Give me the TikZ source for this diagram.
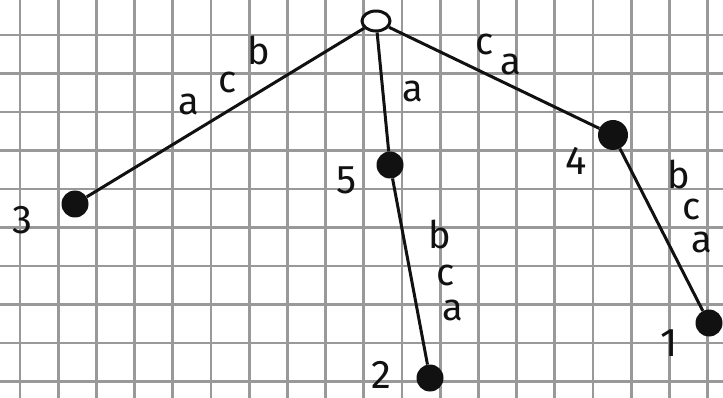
\documentclass[tikz,border=0pt]{standalone}
\usepackage{fontspec}
\setsansfont{Fira Sans}
\usetikzlibrary{shapes.geometric}
\begin{document}
\begin{tikzpicture}[x=1pt,y=-1pt]
    \definecolor{gridColour}{HTML}{999999}
    \definecolor{inkColour}{HTML}{111111}
    \tikzset{
        gridline/.style={gridColour, line width=2.8pt},
        edge/.style={inkColour, line width=3pt},
        leaf/.style={circle, fill=inkColour, minimum size=27pt, inner sep=0pt},
        rootnode/.style={ellipse, draw=inkColour, line width=3pt, fill=white, minimum width=28pt, minimum height=20pt, inner sep=0pt},
        letter/.style={inkColour, font=\sffamily\fontsize{38}{38}\selectfont, inner sep=0pt},
        number/.style={inkColour, font=\sffamily\fontsize{40}{40}\selectfont, inner sep=0pt}
    }

    % Paper
    \fill[white] (0,0) rectangle (723,398);
    \useasboundingbox (0,0) rectangle (723,398);

    % Draw grid
    \foreach \x in {0,...,18}
        \draw[gridline] ({20+38.2*\x},0) -- ({20+38.2*\x},398);
    \foreach \y in {0,...,10}
        \draw[gridline] (0,{-3.5+38.5*\y}) -- (723,{-3.5+38.5*\y});

    % Nodes of the tree
    \node[rootnode] (root) at (376,21) {};
    \node[leaf] (n3) at (75,204) {};
    \node[leaf] (n5) at (390,165) {};
    \node[leaf, minimum size=30pt] (n4) at (613,135) {};
    \node[leaf] (n2) at (430,378) {};
    \node[leaf] (n1) at (709,323) {};

    % Edges
    \draw[edge] (root) -- (n3);
    \draw[edge] (root) -- (n5);
    \draw[edge] (root) -- (n4);
    \draw[edge] (n5) -- (n2);
    \draw[edge] (n4) -- (n1);

    % Leaf numbers
    \node[number] (t3) at (22,220) {3};
    \node[number] (t5) at (347,180) {5};
    \node[number] (t4) at (576,161) {4};
    \node[number] (t2) at (381,375) {2};
    \node[number] (t1) at (669,343) {1};

    % Edge labels: root to 3
    \node[letter] (e3a) at (189,104) {a};
    \node[letter] (e3c) at (228,82) {c};
    \node[letter] (e3b) at (259,50) {b};
    % root to 5
    \node[letter] (e5a) at (413,91) {a};
    % root to 4
    \node[letter] (e4c) at (485,44) {c};
    \node[letter] (e4a) at (511,64) {a};
    % 5 to 2
    \node[letter] (e2b) at (440,234) {b};
    \node[letter] (e2c) at (446,275) {c};
    \node[letter] (e2a) at (453,310) {a};
    % 4 to 1
    \node[letter] (e1b) at (679,174) {b};
    \node[letter] (e1c) at (692,209) {c};
    \node[letter] (e1a) at (702,242) {a};

\end{tikzpicture}
\end{document}
